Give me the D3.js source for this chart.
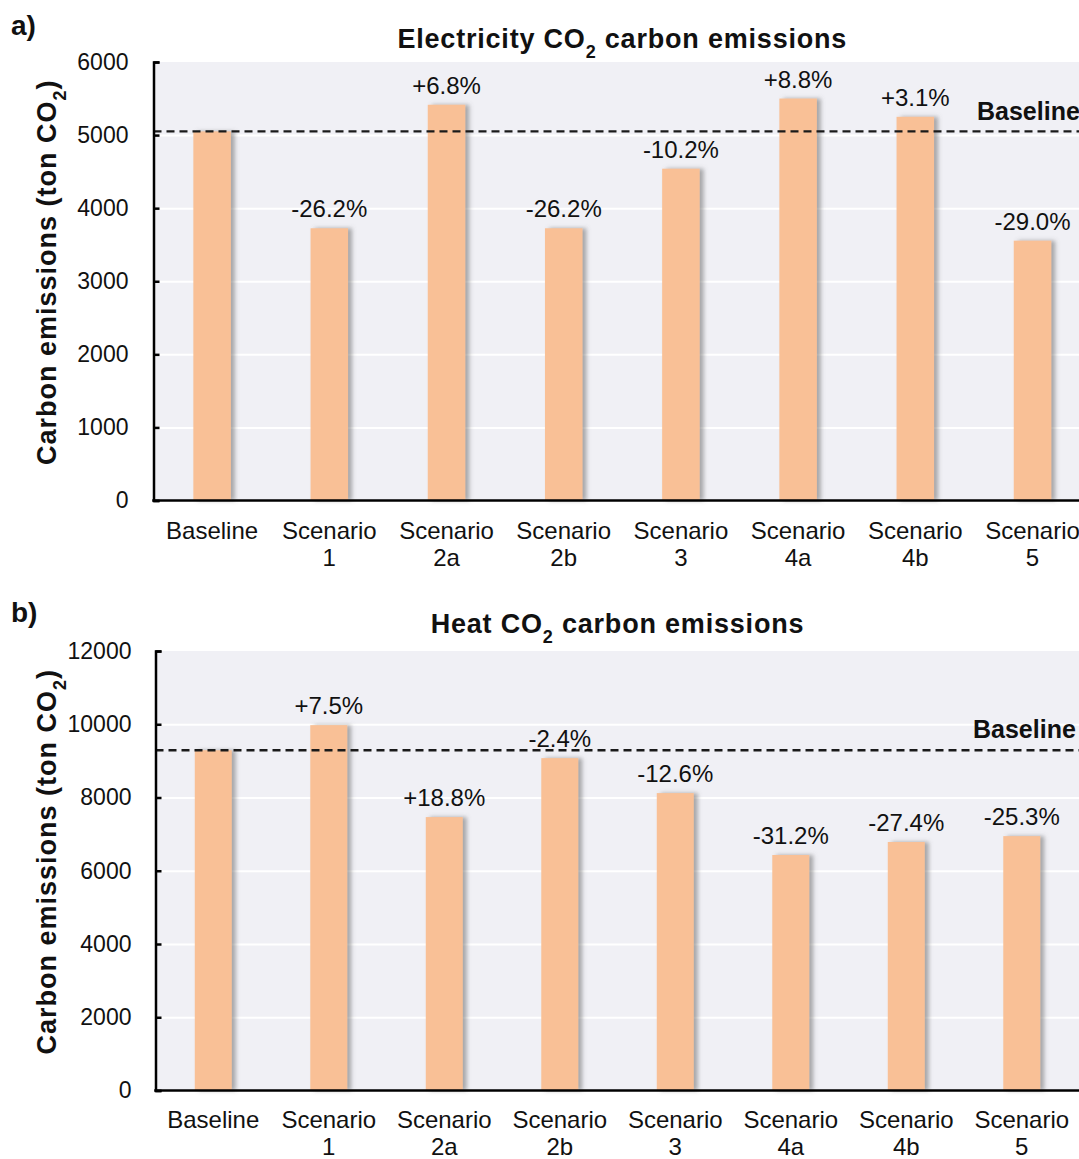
<!DOCTYPE html>
<html>
<head>
<meta charset="utf-8">
<script src="https://cdn.jsdelivr.net/npm/d3@7"></script>
<style>
  html, body { margin: 0; padding: 0; background: #ffffff; }
  svg { display: block; font-family: "Liberation Sans", Arial, Helvetica, sans-serif; }
</style>
</head>
<body>
<svg id="chart" width="1079" height="1159"></svg>
<script>
// Scenario categories (shared by both panels)
const categories = ["Baseline", "Scenario 1", "Scenario 2a", "Scenario 2b",
                    "Scenario 3", "Scenario 4a", "Scenario 4b", "Scenario 5"];

// Electricity CO2 emissions (ton CO2) and change labels
const electricityValues = [5050, 3725, 5415, 3725, 4540, 5500, 5250, 3555];
const electricityLabels = [null, "-26.2%", "+6.8%", "-26.2%", "-10.2%", "+8.8%", "+3.1%", "-29.0%"];
const electricityTicks = [0, 1000, 2000, 3000, 4000, 5000, 6000];

// Heat CO2 emissions (ton CO2) and change labels
const heatValues = [9290, 9975, 7465, 9075, 8120, 6430, 6785, 6945];
const heatLabels = [null, "+7.5%", "+18.8%", "-2.4%", "-12.6%", "-31.2%", "-27.4%", "-25.3%"];
const heatTicks = [0, 2000, 4000, 6000, 8000, 10000, 12000];

const svg = d3.select("#chart");
const W = 1079;

const BAR_COLOR = "#f9c096";
const PLOT_BG = "#f0f0f5";
const TEXT = "#111";

// soft grey shadow on the right side of each bar
const defs = svg.append("defs");
const f = defs.append("filter").attr("id", "barShadow")
  .attr("x", "-20%").attr("y", "-5%").attr("width", "160%").attr("height", "110%");
f.append("feDropShadow").attr("dx", 4).attr("dy", 0).attr("stdDeviation", 2)
  .attr("flood-color", "#6a6a6a").attr("flood-opacity", 0.55);

// text with a CO2 subscript
function co2Text(sel, before, after, subSize) {
  sel.append("tspan").text(before + "CO");
  sel.append("tspan").attr("baseline-shift", "sub").attr("font-size", subSize).text("2");
  sel.append("tspan").text(after);
}

function drawPanel(cfg) {
  const g = svg.append("g");
  const x = d3.scaleBand().domain(categories)
    .range([cfg.left, cfg.left + cfg.step * categories.length])
    .paddingInner(0.68).paddingOuter(0.34);
  const y = d3.scaleLinear().domain([0, cfg.max]).range([cfg.bottom, cfg.top]);
  const rows = categories.map((c, i) => ({ cat: c, value: cfg.values[i], label: cfg.labels[i] }));

  // plot background
  g.append("rect").attr("x", cfg.left).attr("y", cfg.top)
    .attr("width", W - cfg.left).attr("height", cfg.bottom - cfg.top)
    .attr("fill", PLOT_BG);

  // white gridlines
  const grid = g.append("g").attr("transform", `translate(${cfg.left},0)`)
    .call(d3.axisLeft(y).tickValues(cfg.ticks.filter(t => t > 0 && t < cfg.max))
      .tickSize(-(W - cfg.left)).tickFormat(""));
  grid.select(".domain").remove();
  grid.selectAll(".tick line").attr("stroke", "#ffffff").attr("stroke-width", 2);

  // bars
  g.append("g").selectAll("rect").data(rows).join("rect")
    .attr("x", d => x(d.cat))
    .attr("y", d => y(d.value))
    .attr("width", x.bandwidth())
    .attr("height", d => cfg.bottom - y(d.value))
    .attr("fill", BAR_COLOR)
    .attr("filter", "url(#barShadow)");

  // baseline reference line
  const baseY = y(cfg.values[0]);
  g.append("line").attr("x1", cfg.left).attr("x2", W)
    .attr("y1", baseY).attr("y2", baseY)
    .attr("stroke", "#1a1a1a").attr("stroke-width", 2.3).attr("stroke-dasharray", "8,5");
  g.append("text").attr("x", cfg.baseLabelX).attr("y", cfg.baseLabelY)
    .attr("font-size", 25).attr("font-weight", "bold").attr("fill", TEXT)
    .text("Baseline");

  // change labels above bars
  g.append("g").selectAll("text").data(rows.filter(d => d.label !== null)).join("text")
    .attr("x", d => x(d.cat) + x.bandwidth() / 2)
    .attr("y", d => y(d.value) - 11)
    .attr("text-anchor", "middle").attr("font-size", 24).attr("fill", TEXT)
    .text(d => d.label);

  // y axis with inward ticks
  const ax = g.append("g").attr("transform", `translate(${cfg.left},0)`)
    .call(d3.axisLeft(y).tickValues(cfg.ticks).tickFormat(d3.format("d"))
      .tickSize(-6).tickPadding(cfg.tickPad).tickSizeOuter(-6));
  ax.select(".domain").attr("stroke", "#000").attr("stroke-width", 2.5);
  ax.selectAll(".tick line").attr("stroke", "#000").attr("stroke-width", 2.5);
  ax.selectAll(".tick text").attr("font-size", 23).attr("fill", TEXT)
    .attr("font-family", "Liberation Sans, Arial, sans-serif");

  // x axis line
  g.append("line").attr("x1", cfg.left - 1.25).attr("x2", W)
    .attr("y1", cfg.bottom).attr("y2", cfg.bottom)
    .attr("stroke", "#000").attr("stroke-width", 2.5);

  // category labels, two lines
  const cat = g.append("g").selectAll("text").data(categories).join("text")
    .attr("text-anchor", "middle").attr("font-size", 24).attr("fill", TEXT);
  cat.each(function (c) {
    const parts = c === "Baseline" ? ["Baseline"] : ["Scenario", c.split(" ")[1]];
    const cx = x(c) + x.bandwidth() / 2;
    parts.forEach((p, k) => {
      d3.select(this).append("tspan").attr("x", cx)
        .attr("y", cfg.bottom + cfg.catDy + k * 27.5).text(p);
    });
  });

  // title
  const plotMid = (x.range()[0] + x.range()[1]) / 2;
  g.append("text").attr("x", plotMid).attr("y", cfg.titleY)
    .attr("text-anchor", "middle").attr("font-size", 27).attr("font-weight", "bold")
    .attr("letter-spacing", 0.8).attr("fill", TEXT)
    .call(co2Text, cfg.titleWord + " ", " carbon emissions", 18);

  // y axis title
  g.append("text")
    .attr("transform", `translate(56,${(cfg.top + cfg.bottom) / 2 - 9}) rotate(-90)`)
    .attr("text-anchor", "middle").attr("font-size", 27).attr("font-weight", "bold")
    .attr("letter-spacing", 1).attr("fill", TEXT)
    .call(co2Text, "Carbon emissions (ton ", ")", 18);

  // panel letter
  g.append("text").attr("x", 11).attr("y", cfg.letterY)
    .attr("font-size", 28).attr("font-weight", "bold").attr("fill", TEXT)
    .text(cfg.letter);
}

drawPanel({
  values: electricityValues, labels: electricityLabels, ticks: electricityTicks, max: 6000,
  left: 153.5, step: 117.2, top: 62, bottom: 500.5, tickPad: 25, catDy: 38,
  titleWord: "Electricity", titleY: 48, letter: "a)", letterY: 35,
  baseLabelX: 977, baseLabelY: 120
});

drawPanel({
  values: heatValues, labels: heatLabels, ticks: heatTicks, max: 12000,
  left: 155.5, step: 115.5, top: 651, bottom: 1090.5, tickPad: 24, catDy: 37,
  titleWord: "Heat", titleY: 633, letter: "b)", letterY: 622,
  baseLabelX: 973, baseLabelY: 738
});
</script>
</body>
</html>
